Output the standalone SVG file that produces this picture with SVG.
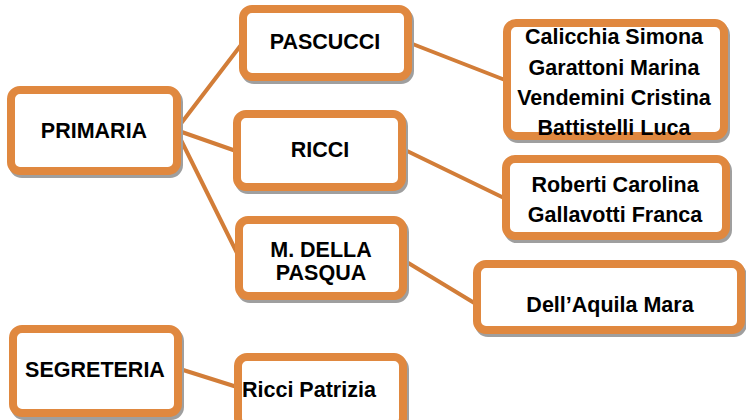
<svg xmlns="http://www.w3.org/2000/svg" width="746" height="420" viewBox="0 0 746 420">
<defs>
<style>
.box{fill:#fff;stroke:#E0883F;stroke-width:8}
.sh{fill:#9f9f9f;stroke:#9f9f9f;stroke-width:8}
.ln{stroke:#D27D38;stroke-width:4;fill:none;stroke-linecap:round}
text{font-family:"Liberation Sans",Arial,sans-serif;font-weight:bold;font-size:21.5px;fill:#000;text-anchor:middle}
</style>
</defs>
<rect width="746" height="420" fill="#fff"/>
<g id="connectors">
<line class="ln" x1="176" y1="130" x2="241" y2="45"/>
<line class="ln" x1="176" y1="130" x2="236" y2="151"/>
<line class="ln" x1="176" y1="130" x2="238" y2="255"/>
<line class="ln" x1="410" y1="43" x2="505" y2="80"/>
<line class="ln" x1="405" y1="150" x2="504" y2="198"/>
<line class="ln" x1="405" y1="261" x2="476" y2="304"/>
<line class="ln" x1="180" y1="369" x2="237" y2="387"/>
</g>
<g id="primaria">
<rect class="sh" x="13" y="93" width="166" height="81" rx="9"/>
<rect class="box" x="11" y="90" width="166" height="81" rx="9"/>
<text x="94" y="138">PRIMARIA</text>
</g>
<g id="pascucci">
<rect class="sh" x="245" y="12" width="165" height="68" rx="9"/>
<rect class="box" x="243" y="9" width="165" height="68" rx="9"/>
<text x="325" y="49">PASCUCCI</text>
</g>
<g id="ricci">
<rect class="sh" x="239" y="117" width="165" height="73" rx="9"/>
<rect class="box" x="237" y="114" width="165" height="73" rx="9"/>
<text x="320" y="157">RICCI</text>
</g>
<g id="della-pasqua">
<rect class="sh" x="241" y="223" width="164" height="76" rx="9"/>
<rect class="box" x="239" y="220" width="164" height="76" rx="9"/>
<text x="321" y="257">M. DELLA</text>
<text x="321" y="280">PASQUA</text>
</g>
<g id="pascucci-staff">
<rect class="sh" x="509" y="26" width="217" height="113" rx="9"/>
<rect class="box" x="507" y="23" width="217" height="113" rx="9"/>
<text x="614" y="44">Calicchia Simona</text>
<text x="614" y="75">Garattoni Marina</text>
<text x="614" y="105">Vendemini Cristina</text>
<text x="614" y="135">Battistelli Luca</text>
</g>
<g id="ricci-staff">
<rect class="sh" x="508" y="162" width="220" height="77" rx="9"/>
<rect class="box" x="506" y="159" width="220" height="77" rx="9"/>
<text x="615" y="192">Roberti Carolina</text>
<text x="615" y="222">Gallavotti Franca</text>
</g>
<g id="della-pasqua-staff">
<rect class="sh" x="479" y="267" width="264" height="66" rx="9"/>
<rect class="box" x="477" y="264" width="264" height="66" rx="9"/>
<text x="610" y="312">Dell’Aquila Mara</text>
</g>
<g id="segreteria">
<rect class="sh" x="15" y="332" width="165" height="84" rx="9"/>
<rect class="box" x="13" y="329" width="165" height="84" rx="9"/>
<text x="95" y="377">SEGRETERIA</text>
</g>
<g id="segreteria-staff">
<rect class="sh" x="240" y="360" width="165" height="70" rx="9"/>
<rect class="box" x="238" y="357" width="165" height="70" rx="9"/>
<text x="242" y="397" style="text-anchor:start">Ricci Patrizia</text>
</g>
</svg>
